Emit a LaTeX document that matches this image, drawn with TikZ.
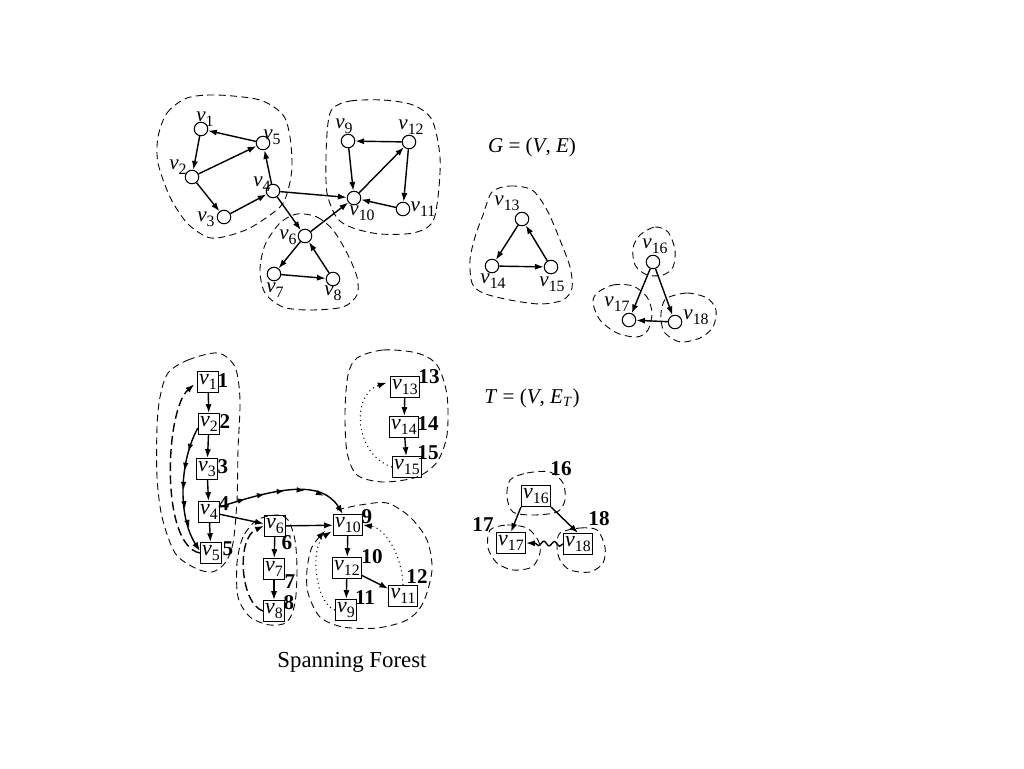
\documentclass[tikz,border=0pt]{standalone}
\usepackage{fontspec}
\setmainfont{Liberation Serif}
\usepackage{tikz}
\usetikzlibrary{arrows.meta,positioning,calc,decorations.markings,decorations.pathmorphing}
\pgfdeclarelayer{bg}
\pgfsetlayers{bg,main}
\newcommand{\vlab}[1]{\textit{v}\raisebox{-0.5ex}{\fontsize{9}{9}\selectfont #1}}

\begin{document}
\begin{tikzpicture}[x=0.02cm, y=-0.02cm,
    font=\fontsize{12}{14}\selectfont,
    vtx/.style={draw, circle, minimum size=0.27cm, inner sep=0pt, line width=0.6pt},
    tbox/.style={draw, rectangle, inner sep=1pt, minimum height=0.42cm, line width=0.6pt, font=\fontsize{12.5}{14}\selectfont},
    lab/.style={inner sep=0pt},
    num/.style={inner sep=0pt, font=\fontsize{12}{14}\selectfont\bfseries},
    tedge/.style={-{Latex[length=5pt,width=3.5pt]}, line width=0.8pt},
    multi/.style={tedge, postaction={decorate}, decoration={markings,
        mark=between positions 0.2 and 0.8 step 0.15 with {\arrow{Latex[length=4.5pt,width=3.2pt]}}}},
    backedge/.style={tedge, dash pattern=on 5pt off 2.5pt},
    dotedge/.style={-{Latex[length=5pt,width=3.5pt]}, line width=0.6pt, dotted},
    wavy/.style={tedge, decorate, decoration={snake, amplitude=1.3pt, segment length=6pt, post length=5pt}},
    blob/.style={line width=0.5pt, dash pattern=on 4pt off 2.5pt}]
    \useasboundingbox (0,0) rectangle (1024,768);

    % G = (V, E)
    \node [vtx] (g1) at (201,129) {};
    \node [vtx] (g2) at (192,177) {};
    \node [vtx] (g3) at (224,217) {};
    \node [vtx] (g4) at (273,191) {};
    \node [vtx] (g5) at (263,143) {};
    \node [vtx] (g6) at (305,236) {};
    \node [vtx] (g7) at (274,274) {};
    \node [vtx] (g8) at (333,279) {};
    \node [vtx] (g9) at (348,141) {};
    \node [vtx] (g10) at (354,198) {};
    \node [vtx] (g11) at (403,209) {};
    \node [vtx] (g12) at (409,142) {};
    \node [vtx] (g13) at (522,219) {};
    \node [vtx] (g14) at (492,266) {};
    \node [vtx] (g15) at (551,267) {};
    \node [vtx] (g16) at (653,262) {};
    \node [vtx] (g17) at (629,320) {};
    \node [vtx] (g18) at (675,322) {};

    \node [lab] (l1) at (205,119) {\vlab{1}};
    \node [lab] (l2) at (178,167) {\vlab{2}};
    \node [lab] (l3) at (206,219) {\vlab{3}};
    \node [lab] (l4) at (262,184) {\vlab{4}};
    \node [lab] (l5) at (272,137) {\vlab{5}};
    \node [lab] (l6) at (288,237) {\vlab{6}};
    \node [lab] (l7) at (275,290) {\vlab{7}};
    \node [lab] (l8) at (333,293) {\vlab{8}};
    \node [lab] (l9) at (344,126) {\vlab{9}};
    \node [lab] (l10) at (362,213) {\vlab{10}};
    \node [lab] (l11) at (423,209) {\vlab{11}};
    \node [lab] (l12) at (411,127) {\vlab{12}};
    \node [lab] (l13) at (507,203) {\vlab{13}};
    \node [lab] (l14) at (493,281) {\vlab{14}};
    \node [lab] (l15) at (552,284) {\vlab{15}};
    \node [lab] (l16) at (655,246) {\vlab{16}};
    \node [lab] (l17) at (617,304) {\vlab{17}};
    \node [lab] (l18) at (696,317) {\vlab{18}};

    \draw [tedge] (g5) -- (g1);
    \draw [tedge] (g1) -- (g2);
    \draw [tedge] (g2) -- (g5);
    \draw [tedge] (g2) -- (g3);
    \draw [tedge] (g3) -- (g4);
    \draw [tedge] (g4) -- (g5);
    \draw [tedge] (g4) -- (g10);
    \draw [tedge] (g4) -- (g6);
    \draw [tedge] (g6) -- (g10);
    \draw [tedge] (g6) -- (g7);
    \draw [tedge] (g7) -- (g8);
    \draw [tedge] (g8) -- (g6);
    \draw [tedge] (g9) -- (g10);
    \draw [tedge] (g12) -- (g9);
    \draw [tedge] (g10) -- (g12);
    \draw [tedge] (g12) -- (g11);
    \draw [tedge] (g11) -- (g10);
    \draw [tedge] (g13) -- (g14);
    \draw [tedge] (g14) -- (g15);
    \draw [tedge] (g15) -- (g13);
    \draw [tedge] (g16) -- (g17);
    \draw [tedge] (g16) -- (g18);
    \draw [tedge] (g18) -- (g17);

    \node (gtitle) at (532,147) {\textit{G} = (\textit{V}, \textit{E})};

    % T = (V, E_T)
    \node [tbox] (t1) at (208,382) {\vlab{1}};
    \node [tbox] (t2) at (209,424) {\vlab{2}};
    \node [tbox] (t3) at (207,469) {\vlab{3}};
    \node [tbox] (t4) at (209,512) {\vlab{4}};
    \node [tbox] (t5) at (211,553) {\vlab{5}};
    \node [tbox] (t6) at (275,526) {\vlab{6}};
    \node [tbox] (t7) at (274,569) {\vlab{7}};
    \node [tbox] (t8) at (274,611) {\vlab{8}};
    \node [tbox] (t10) at (348,525) {\vlab{10}};
    \node [tbox] (t12) at (347,568) {\vlab{12}};
    \node [tbox] (t9) at (346,610) {\vlab{9}};
    \node [tbox] (t11) at (403,596) {\vlab{11}};
    \node [tbox] (t13) at (405,387) {\vlab{13}};
    \node [tbox] (t14) at (404,427) {\vlab{14}};
    \node [tbox] (t15) at (407,467) {\vlab{15}};
    \node [tbox] (t16) at (536,496) {\vlab{16}};
    \node [tbox] (t17) at (511,543) {\vlab{17}};
    \node [tbox] (t18) at (578,544) {\vlab{18}};

    \node [num] (n1) at (223,381) {1};
    \node [num] (n2) at (225,422) {2};
    \node [num] (n3) at (223,467) {3};
    \node [num] (n4) at (224,504) {4};
    \node [num] (n5) at (228,549) {5};
    \node [num] (n6) at (287,543) {6};
    \node [num] (n7) at (290,582) {7};
    \node [num] (n8) at (289,603) {8};
    \node [num] (n9) at (367,517) {9};
    \node [num] (n10) at (372,557) {10};
    \node [num] (n11) at (365,598) {11};
    \node [num] (n12) at (417,577) {12};
    \node [num] (n13) at (429,377) {13};
    \node [num] (n14) at (428,424) {14};
    \node [num] (n15) at (428,453) {15};
    \node [num] (n16) at (561,469) {16};
    \node [num] (n17) at (483,525) {17};
    \node [num] (n18) at (599,519) {18};

    \draw [tedge] (t1) -- (t2);
    \draw [tedge] (t2) -- (t3);
    \draw [tedge] (t3) -- (t4);
    \draw [tedge] (t4) -- (t5);
    \draw [tedge] (t4) -- (t6);
    \draw [tedge] (t6) -- (t7);
    \draw [tedge] (t7) -- (t8);
    \draw [tedge] (t6) -- (t10);
    \draw [tedge] (t10) -- (t12);
    \draw [tedge] (t12) -- (t9);
    \draw [tedge] (t12) -- (t11);
    \draw [tedge] (t13) -- (t14);
    \draw [tedge] (t14) -- (t15);
    \draw [tedge] (t16.south west) -- (t17.north);
    \draw [tedge] (t16.south east) -- (t18.north);

    \draw [multi] (t2.200) .. controls (180,460) and (177,515) .. (t5.170);
    \draw [multi] (t4.25) .. controls (280,487) and (322,480) .. (t10.115);
    \draw [backedge, shorten >=2pt] (t5.west) .. controls (160,545) and (165,410) .. (t1.west);
    \draw [backedge] (t8.west) .. controls (240,603) and (236,538) .. (t6.west);
    \draw [dotedge, shorten >=1pt] (t9.west) .. controls (314,602) and (310,545) .. (t10.200);
    \draw [dotedge] (t11.north) .. controls (402,555) and (385,528) .. (t10.east);
    \draw [dotedge, shorten >=2pt] (t15.west) .. controls (355,455) and (350,395) .. (t13.160);
    \draw [wavy] (t18.west) -- (t17.east);

    \node (ttitle) at (532,398) {\textit{T} = (\textit{V}, \textit{E}\textsubscript{\textit{T}})};
    \node [font=\fontsize{13}{15}\selectfont] (caption) at (352,662) {Spanning Forest};

    \begin{pgfonlayer}{bg}    % components
        \draw [blob] plot [smooth cycle] coordinates {(158,137) (167,113) (187,98) (217,95) (260,100) (283,115) (290,137) (292,167) (288,190) (280,207) (250,228) (223,237) (207,237) (187,223) (170,197) (158,163)};
        \draw [blob] plot [smooth cycle] coordinates {(297,214) (317,217) (333,230) (347,253) (357,277) (357,295) (343,307) (310,310) (283,307) (265,293) (260,270) (265,245) (280,223)};
        \draw [blob] plot [smooth cycle] coordinates {(333,108) (350,101) (383,100) (413,105) (432,120) (440,157) (438,197) (432,223) (413,233) (380,234) (353,228) (337,218) (327,193) (326,157) (328,123)};
        \draw [blob] plot [smooth cycle] coordinates {(492,192) (510,186) (532,190) (547,210) (560,240) (570,267) (572,288) (563,300) (540,304) (510,300) (483,293) (472,283) (470,260) (475,237) (483,215)};
        \draw [blob] plot [smooth cycle] coordinates {(640,235) (655,227) (668,232) (675,250) (673,267) (663,275) (647,275) (635,265) (633,248)};
        \draw [blob] plot [smooth cycle] coordinates {(597,293) (613,285) (633,286) (647,297) (652,313) (648,330) (637,337) (617,333) (600,320) (593,303)};
        \draw [blob] plot [smooth cycle] coordinates {(667,298) (687,293) (707,298) (716,310) (713,327) (700,338) (680,342) (665,333) (661,320) (662,307)};
        \draw [blob] plot [smooth cycle] coordinates {(168,373) (188,360) (218,353) (235,367) (240,400) (238,450) (237,500) (233,543) (225,563) (212,572) (195,568) (175,553) (162,517) (157,477) (157,427) (160,397)};
        \draw [blob] plot [smooth cycle] coordinates {(257,520) (243,537) (237,563) (238,597) (250,617) (270,625) (287,622) (295,603) (297,570) (295,540) (288,520) (277,515)};
        \draw [blob, -{Latex[length=5pt,width=3.5pt]}] plot [smooth] coordinates {(337,510) (360,505) (387,503) (410,517) (427,540) (432,570) (423,603) (407,620) (377,628) (343,627) (320,617) (308,593) (307,570) (312,547) (325,531)};
        \draw [blob] plot [smooth cycle] coordinates {(357,358) (383,350) (417,353) (437,365) (447,395) (447,435) (437,462) (417,477) (383,482) (357,475) (347,452) (345,412) (348,375)};
        \draw [blob] plot [smooth cycle] coordinates {(510,480) (527,473) (550,472) (563,483) (565,500) (557,512) (533,515) (513,512) (507,497)};
        \draw [blob] plot [smooth cycle] coordinates {(490,530) (507,525) (527,528) (538,540) (540,553) (532,567) (513,570) (497,563) (488,548)};
        \draw [blob] plot [smooth cycle] coordinates {(560,533) (580,528) (597,530) (605,547) (603,563) (590,572) (570,570) (560,560) (557,547)};
    \end{pgfonlayer}
\end{tikzpicture}
\end{document}
